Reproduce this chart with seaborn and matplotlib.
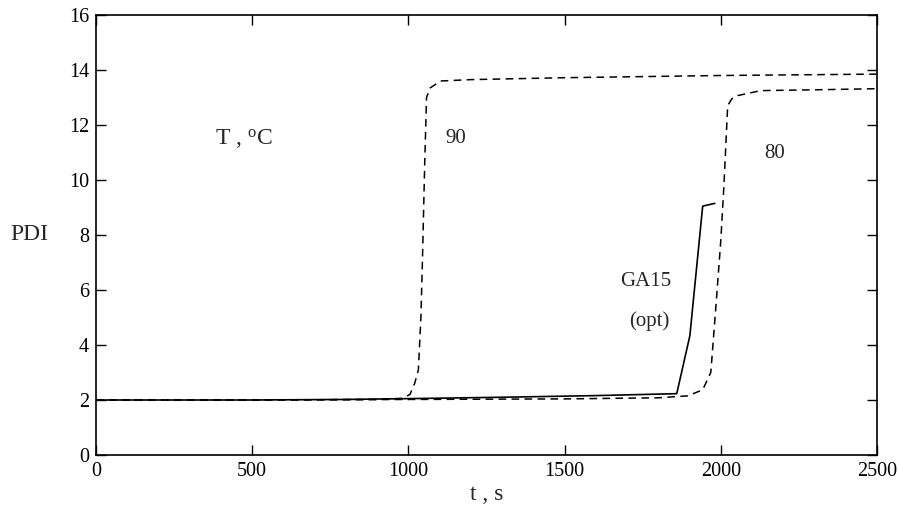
import matplotlib
matplotlib.use("Agg")
import matplotlib.pyplot as plt
import seaborn as sns
import pandas as pd

# 90 C (dashed)
t90 = [0, 500, 900, 980, 1005, 1020, 1032, 1040, 1045, 1052, 1058, 1070, 1103, 1200, 1500, 2000, 2500]
pdi90 = [2.0, 2.0, 2.02, 2.06, 2.2, 2.6, 3.1, 5.0, 7.1, 10.5, 13.0, 13.35, 13.6, 13.65, 13.72, 13.8, 13.85]

# 80 C (dashed)
t80 = [0, 500, 1000, 1500, 1800, 1894, 1942, 1968, 1987, 2000, 2010, 2022, 2035, 2054, 2128, 2300, 2500]
pdi80 = [2.0, 2.0, 2.02, 2.04, 2.08, 2.15, 2.37, 3.0, 5.8, 7.8, 9.8, 12.7, 12.95, 13.07, 13.25, 13.28, 13.32]

# GA15 (opt) (solid)
tga = [0, 500, 800, 1000, 1300, 1600, 1859, 1901, 1942, 1981]
pdiga = [2.0, 2.0, 2.02, 2.05, 2.1, 2.16, 2.23, 4.34, 9.05, 9.15]

xticks = [0, 500, 1000, 1500, 2000, 2500]
yticks = [0, 2, 4, 6, 8, 10, 12, 14, 16]

sns.set_theme(style="ticks")
plt.rcParams['font.family'] = ['Liberation Serif', 'DejaVu Serif']
plt.rcParams['mathtext.fontset'] = 'custom'
plt.rcParams['mathtext.rm'] = 'Liberation Serif'
plt.rcParams['mathtext.it'] = 'Liberation Serif:italic'

fig = plt.figure(figsize=(8.98, 5.09), dpi=100)
ax = fig.add_axes([96/898, 1 - 455/509, (877 - 96)/898, (455 - 15)/509])

d90 = pd.DataFrame({"t": t90, "PDI": pdi90})
d80 = pd.DataFrame({"t": t80, "PDI": pdi80})
dga = pd.DataFrame({"t": tga, "PDI": pdiga})

sns.lineplot(data=d90, x="t", y="PDI", ax=ax, color="black", lw=1.1, linestyle=(0, (5, 3.5)), sort=False)
sns.lineplot(data=d80, x="t", y="PDI", ax=ax, color="black", lw=1.1, linestyle=(0, (5, 3.5)), sort=False)
sns.lineplot(data=dga, x="t", y="PDI", ax=ax, color="black", lw=1.2, sort=False)

ax.set_xlim(0, 2500)
ax.set_ylim(0, 16)
ax.set_xticks(xticks)
ax.set_yticks(yticks)
ax.set_xticklabels([str(v) for v in xticks], fontsize=14.5)
ax.set_yticklabels([str(v) for v in yticks], fontsize=14.5)
ax.tick_params(direction="in", length=7, width=1, top=True, right=True, colors="black", pad=5)
for s in ax.spines.values():
    s.set_linewidth(1.2)
    s.set_color("black")

ax.set_xlabel("t , s", fontsize=17, labelpad=2)
ax.set_ylabel("PDI", fontsize=17, rotation=0, labelpad=28, va="center")

ax.text(381, 11.5, "T , $^{\\mathrm{o}}$C", fontsize=17, ha="left", va="center")
ax.text(1119, 11.5, "90", fontsize=15, ha="left", va="center")
ax.text(2140, 10.95, "80", fontsize=15, ha="left", va="center")
ax.text(1840, 6.3, "GA15", fontsize=15, ha="right", va="center")
ax.text(1835, 4.85, "(opt)", fontsize=15, ha="right", va="center")

fig.savefig("out.png", dpi=100)
